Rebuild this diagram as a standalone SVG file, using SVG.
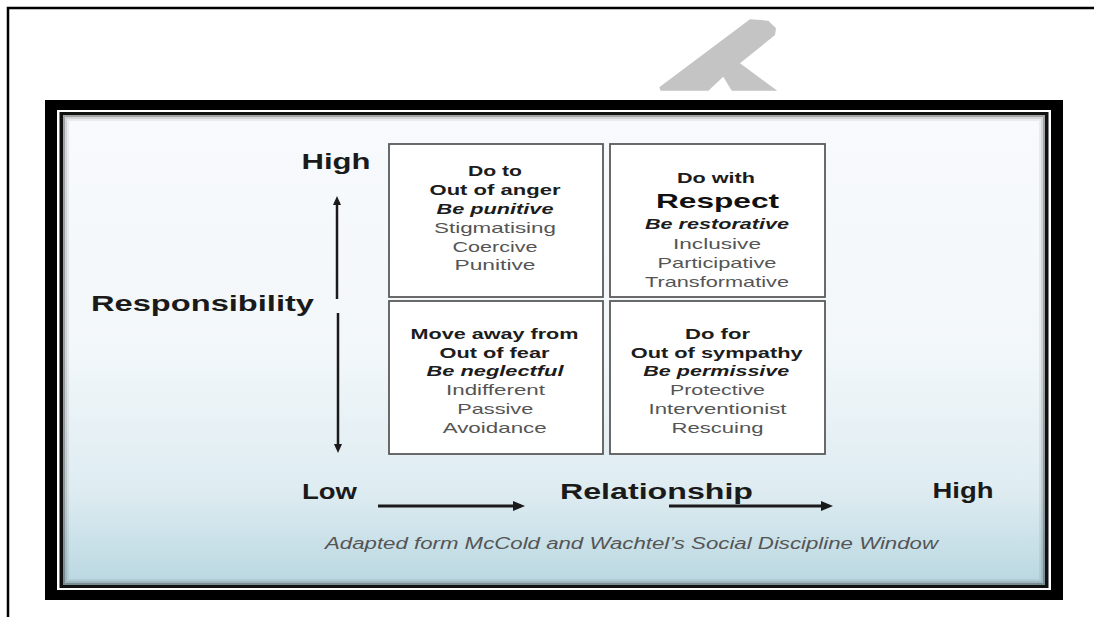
<svg xmlns="http://www.w3.org/2000/svg" width="1094" height="617" viewBox="0 0 1094 617">
<defs>
<style>
text{font-family:"Liberation Sans",Arial,sans-serif;text-anchor:middle}
.b{font-weight:bold;font-size:15px;fill:#1c1c1c}
.bi{font-weight:bold;font-style:italic;font-size:15px;fill:#1c1c1c}
.r{font-size:15px;fill:#555}
.big{font-weight:bold;font-size:21px;fill:#111}
.ax{font-weight:bold;font-size:22px;fill:#1a1a1a}
.cap{font-style:italic;font-size:16px;fill:#555}
.box{fill:#fff;stroke:#5a5a5a;stroke-width:1.8}
.arr{stroke:#1a1a1a;fill:none}
</style>
<linearGradient id="bg" x1="0" y1="0" x2="0" y2="1">
<stop offset="0" stop-color="#f8fafd"/>
<stop offset="0.5" stop-color="#f2f7fa"/>
<stop offset="0.8" stop-color="#deecf1"/>
<stop offset="1" stop-color="#b9d7e1"/>
</linearGradient>
<marker id="ah" markerWidth="12" markerHeight="10" refX="8" refY="5" orient="auto" markerUnits="userSpaceOnUse">
<path d="M0,0 L12,5 L0,10 z" fill="#1a1a1a"/>
</marker>
<marker id="ahs" markerWidth="9" markerHeight="8" refX="5" refY="4" orient="auto" markerUnits="userSpaceOnUse">
<path d="M0,0 L9,4 L0,8 z" fill="#1a1a1a"/>
</marker>
</defs>
<rect width="1094" height="617" fill="#fff"/>
<g id="page-border">
<path d="M8,617 V8 H1094" fill="none" stroke="#000" stroke-width="2.5"/>
</g>
<g id="watermark">
<polygon points="750,19.3 768.3,20.7 776,28.3 775,35 740,63.3 777.3,90.7 731.7,90.7 723.3,76.7 708.3,90.7 660.7,90.7 659.3,87.3" fill="#c4c4c4"/>
</g>
<g id="frame">
<rect x="45" y="100" width="1018" height="500" fill="#000"/>
<rect x="57" y="110" width="994" height="480" fill="#fff"/>
<rect x="59.5" y="112" width="989" height="476" fill="#111"/>
<rect x="63" y="115" width="982" height="470" fill="url(#bg)"/>
<rect x="64" y="116" width="980" height="468" fill="none" stroke="#000" stroke-opacity="0.35" stroke-width="2"/>
<rect x="66" y="118" width="976" height="464" fill="none" stroke="#000" stroke-opacity="0.15" stroke-width="2"/>
<rect x="68" y="120" width="972" height="460" fill="none" stroke="#000" stroke-opacity="0.06" stroke-width="2"/>
</g>
<g id="connectors">
<line class="arr" x1="337" y1="299" x2="337" y2="200" stroke-width="2.5" marker-end="url(#ahs)"/>
<line class="arr" x1="338" y1="313" x2="338" y2="449" stroke-width="2.5" marker-end="url(#ahs)"/>
<line class="arr" x1="378" y1="506" x2="521" y2="506" stroke-width="3" marker-end="url(#ah)"/>
<line class="arr" x1="669" y1="506" x2="829" y2="506" stroke-width="3" marker-end="url(#ah)"/>
</g>
<g id="quadrant-do-to">
<rect class="box" x="389" y="144" width="214" height="153"/>
<text class="b" x="495" y="176" textLength="54" lengthAdjust="spacingAndGlyphs">Do to</text>
<text class="b" x="495" y="195" textLength="131" lengthAdjust="spacingAndGlyphs">Out of anger</text>
<text class="bi" x="495" y="213.5" textLength="117" lengthAdjust="spacingAndGlyphs">Be punitive</text>
<text class="r" x="495" y="232.5" textLength="122" lengthAdjust="spacingAndGlyphs">Stigmatising</text>
<text class="r" x="495" y="251.5" textLength="85" lengthAdjust="spacingAndGlyphs">Coercive</text>
<text class="r" x="495" y="270" textLength="81" lengthAdjust="spacingAndGlyphs">Punitive</text>
</g>
<g id="quadrant-do-with">
<rect class="box" x="610" y="144" width="215" height="153"/>
<text class="b" x="716" y="183" textLength="78" lengthAdjust="spacingAndGlyphs">Do with</text>
<text class="big" x="717.5" y="208" textLength="123" lengthAdjust="spacingAndGlyphs">Respect</text>
<text class="bi" x="717" y="229" textLength="144" lengthAdjust="spacingAndGlyphs">Be restorative</text>
<text class="r" x="717" y="249" textLength="88" lengthAdjust="spacingAndGlyphs">Inclusive</text>
<text class="r" x="717" y="268" textLength="119" lengthAdjust="spacingAndGlyphs">Participative</text>
<text class="r" x="717" y="287" textLength="144" lengthAdjust="spacingAndGlyphs">Transformative</text>
</g>
<g id="quadrant-move-away">
<rect class="box" x="389" y="301" width="214" height="153"/>
<text class="b" x="494.5" y="339" textLength="168" lengthAdjust="spacingAndGlyphs">Move away from</text>
<text class="b" x="494.5" y="357.5" textLength="110" lengthAdjust="spacingAndGlyphs">Out of fear</text>
<text class="bi" x="495" y="375.5" textLength="137" lengthAdjust="spacingAndGlyphs">Be neglectful</text>
<text class="r" x="495.5" y="395" textLength="99" lengthAdjust="spacingAndGlyphs">Indifferent</text>
<text class="r" x="495.3" y="414" textLength="76" lengthAdjust="spacingAndGlyphs">Passive</text>
<text class="r" x="494.7" y="432.5" textLength="104" lengthAdjust="spacingAndGlyphs">Avoidance</text>
</g>
<g id="quadrant-do-for">
<rect class="box" x="610" y="301" width="215" height="153"/>
<text class="b" x="717.5" y="339" textLength="65" lengthAdjust="spacingAndGlyphs">Do for</text>
<text class="b" x="716.7" y="357.5" textLength="172" lengthAdjust="spacingAndGlyphs">Out of sympathy</text>
<text class="bi" x="716.3" y="375.5" textLength="146" lengthAdjust="spacingAndGlyphs">Be permissive</text>
<text class="r" x="717.5" y="395" textLength="95" lengthAdjust="spacingAndGlyphs">Protective</text>
<text class="r" x="717.5" y="414" textLength="138" lengthAdjust="spacingAndGlyphs">Interventionist</text>
<text class="r" x="717.5" y="432.5" textLength="92" lengthAdjust="spacingAndGlyphs">Rescuing</text>
</g>
<g id="axis-responsibility">
<text class="ax" x="336" y="169" textLength="69" lengthAdjust="spacingAndGlyphs">High</text>
<text class="ax" x="202.5" y="311" textLength="223" lengthAdjust="spacingAndGlyphs">Responsibility</text>
</g>
<g id="axis-relationship">
<text class="ax" x="329.5" y="499" textLength="55" lengthAdjust="spacingAndGlyphs">Low</text>
<text class="ax" x="656.5" y="499" textLength="193" lengthAdjust="spacingAndGlyphs">Relationship</text>
<text class="ax" x="963" y="498" textLength="61" lengthAdjust="spacingAndGlyphs">High</text>
</g>
<g id="caption">
<text class="cap" x="631.5" y="549" textLength="613" lengthAdjust="spacingAndGlyphs">Adapted form McCold and Wachtel’s  Social Discipline Window</text>
</g>
</svg>
